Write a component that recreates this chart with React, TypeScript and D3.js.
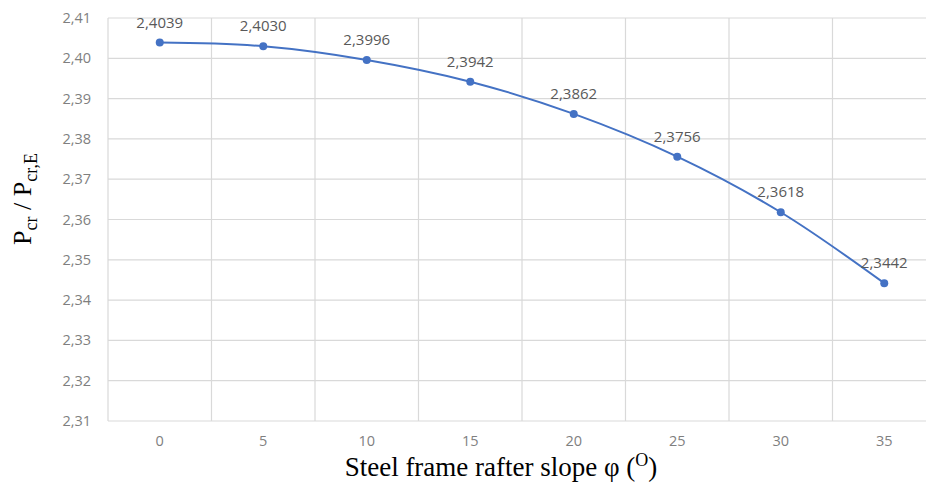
import React from "react";
import * as d3 from "d3";

const slopes = ["0", "5", "10", "15", "20", "25", "30", "35"];
const ratio = [2.4039, 2.403, 2.3996, 2.3942, 2.3862, 2.3756, 2.3618, 2.3442];
const yTicks = [2.31, 2.32, 2.33, 2.34, 2.35, 2.36, 2.37, 2.38, 2.39, 2.4, 2.41];

const W = 926;
const H = 483;
const left = 108;
const bandW = 103.5;
const top = 18;
const bottom = 421;

const fmt = (v: number, d: number) => v.toFixed(d).replace(".", ",");

export default function App() {
  const x = d3
    .scaleBand<string>()
    .domain(slopes)
    .range([left, left + bandW * slopes.length])
    .padding(0);
  const y = d3.scaleLinear().domain([2.31, 2.41]).range([bottom, top]);
  const cx = (s: string) => (x(s) as number) + x.bandwidth() / 2;
  const pts = slopes.map((s, i) => [cx(s), y(ratio[i])] as [number, number]);
  const line = d3.line().curve(d3.curveCatmullRom.alpha(0.5))(pts) || "";
  const vLines = [...slopes.map((s) => x(s) as number), left + bandW * slopes.length];
  const grid = "#d9d9d9";
  const sans = "'Open Sans', 'Noto Sans', sans-serif";
  const serif = "'Liberation Serif', 'DejaVu Serif', serif";

  return (
    <svg
      width={W}
      height={H}
      style={{ position: "absolute", left: 0, top: 0, background: "#fff" }}
    >
      <rect x={0} y={0} width={W} height={H} fill="#fff" />
      {yTicks.map((t) => (
        <line key={"h" + t} x1={left} x2={W} y1={y(t)} y2={y(t)} stroke={grid} strokeWidth={1.2} />
      ))}
      {vLines.map((v, i) => (
        <line key={"v" + i} x1={v} x2={v} y1={top} y2={bottom} stroke={grid} strokeWidth={1.2} />
      ))}
      {yTicks.map((t) => (
        <text
          key={"yt" + t}
          x={91}
          y={y(t)}
          dy="0.35em"
          textAnchor="end"
          fontFamily={sans}
          fontSize={14.5}
          fill="#7f7f7f"
        >
          {fmt(t, 2)}
        </text>
      ))}
      {slopes.map((s) => (
        <text
          key={"xt" + s}
          x={cx(s)}
          y={441}
          dy="0.35em"
          textAnchor="middle"
          fontFamily={sans}
          fontSize={14.5}
          fill="#7f7f7f"
        >
          {s}
        </text>
      ))}
      <path d={line} fill="none" stroke="#4472c4" strokeWidth={2} />
      {pts.map((p, i) => (
        <circle key={"c" + i} cx={p[0]} cy={p[1]} r={4} fill="#4472c4" />
      ))}
      {pts.map((p, i) => (
        <text
          key={"l" + i}
          x={p[0]}
          y={p[1] - 20}
          dy="0.35em"
          textAnchor="middle"
          fontFamily={sans}
          fontSize={15}
          fill="#595959"
        >
          {fmt(ratio[i], 4)}
        </text>
      ))}
      <text
        x={501}
        y={476}
        textAnchor="middle"
        fontFamily={serif}
        fontSize={27}
        fill="#000"
      >
        Steel frame rafter slope φ (
        <tspan fontSize={18} dy={-10}>O</tspan>
        <tspan dy={10}>)</tspan>
      </text>
      <text
        transform={`translate(31,199) rotate(-90)`}
        textAnchor="middle"
        fontFamily={serif}
        fontSize={26}
        fill="#000"
      >
        P<tspan fontSize={18} dy={6}>cr</tspan>
        <tspan dy={-6}> / P</tspan>
        <tspan fontSize={18} dy={6}>cr,E</tspan>
      </text>
    </svg>
  );
}
